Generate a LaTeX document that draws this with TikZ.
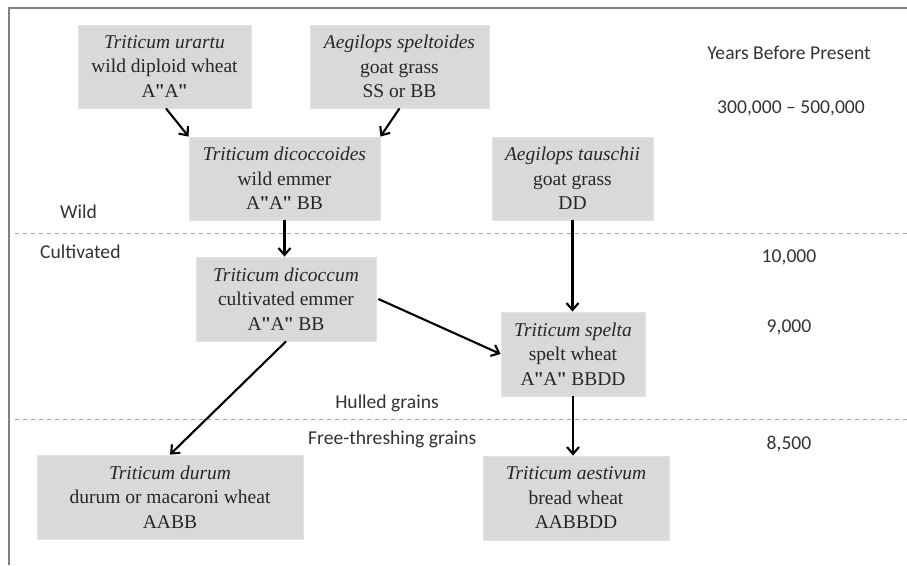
\documentclass[tikz,border=0pt]{standalone}
\usepackage{fontspec}
\setmainfont{Liberation Serif}
\newfontfamily\lblfont{Carlito}
\newfontfamily\qfont{Liberation Serif}
\usetikzlibrary{arrows.meta}
\newcommand\dq{\kern-1.2pt{\qfont\bfseries"}\kern-0.8pt}
\tikzset{
  box/.style={rectangle, fill=gray!30, draw=gray!22, line width=0.8pt, align=center,
    inner sep=0pt, font=\fontsize{19.5}{24.5}\selectfont, text=black!85},
  lbl/.style={font=\lblfont\fontsize{19.6}{22}\selectfont, text=black!80, inner sep=0pt},
  arr/.style={line width=2.1pt, -{Straight Barb[length=7pt,width=12pt,line width=2.1pt]}},
  sep/.style={gray!70, line width=1pt, dash pattern=on 4pt off 4pt},
}
\begin{document}
\begin{tikzpicture}[x=1pt,y=-1pt]
\useasboundingbox (0,0) rectangle (907,565);
% frame
\draw[gray, line width=1.3pt] (9,565) -- (9,8) -- (907,8);
% separators
\draw[sep] (15,233) -- (907,233);
\draw[sep] (15,419) -- (907,419);
% boxes
\node[box, minimum width=173, minimum height=83] (u) at (164.5,66.5)
  {\textit{Triticum urartu}\\wild diploid wheat\\A\dq A\dq};
\node[box, minimum width=179, minimum height=83] (s) at (399.5,66.5)
  {\textit{Aegilops speltoides}\\goat grass\\SS or BB};
\node[box, minimum width=191, minimum height=83] (dc) at (284.5,178.5)
  {\textit{Triticum dicoccoides}\\wild emmer\\A\dq A\dq\ BB};
\node[box, minimum width=161, minimum height=83] (t) at (572.5,178.5)
  {\textit{Aegilops tauschii}\\goat grass\\DD};
\node[box, minimum width=180, minimum height=84] (dm) at (286,299)
  {\textit{Triticum dicoccum}\\cultivated emmer\\A\dq A\dq\ BB};
\node[box, minimum width=144, minimum height=84] (sp) at (573,354)
  {\textit{Triticum spelta}\\spelt wheat\\A\dq A\dq\ BBDD};
\node[box, minimum width=266, minimum height=84] (du) at (170,497)
  {\textit{Triticum durum}\\durum or macaroni wheat\\AABB};
\node[box, minimum width=186, minimum height=84] (ae) at (576,498)
  {\textit{Triticum aestivum}\\bread wheat\\AABBDD};
% labels
\node[lbl] (ybp) at (789,53) {Years Before Present};
\node[lbl] (y1) at (791,108) {300,000 – 500,000};
\node[lbl, anchor=west] (wild) at (60,212) {Wild};
\node[lbl, anchor=west] (cult) at (40,252) {Cultivated};
\node[lbl] (y2) at (789,257) {10,000};
\node[lbl] (y3) at (789,327) {9,000};
\node[lbl] (hull) at (387,403) {Hulled grains};
\node[lbl, anchor=west] (free) at (308,439) {Free-threshing grains};
\node[lbl] (y4) at (789,444) {8,500};
% arrows
\draw[arr] ([xshift=1.5pt]u.south) -- (dc.north west);
\draw[arr] (s.south) -- (dc.north east);
\draw[arr] (dc.south) -- (dc.south |- dm.north);
\draw[arr] (t.south) -- (t.south |- sp.north);
\draw[arr] ([xshift=2pt]dm.east) -- (sp.west);
\draw[arr] (dm.south) -- (du.north);
\draw[arr] (sp.south) -- (sp.south |- ae.north);
\end{tikzpicture}
\end{document}
